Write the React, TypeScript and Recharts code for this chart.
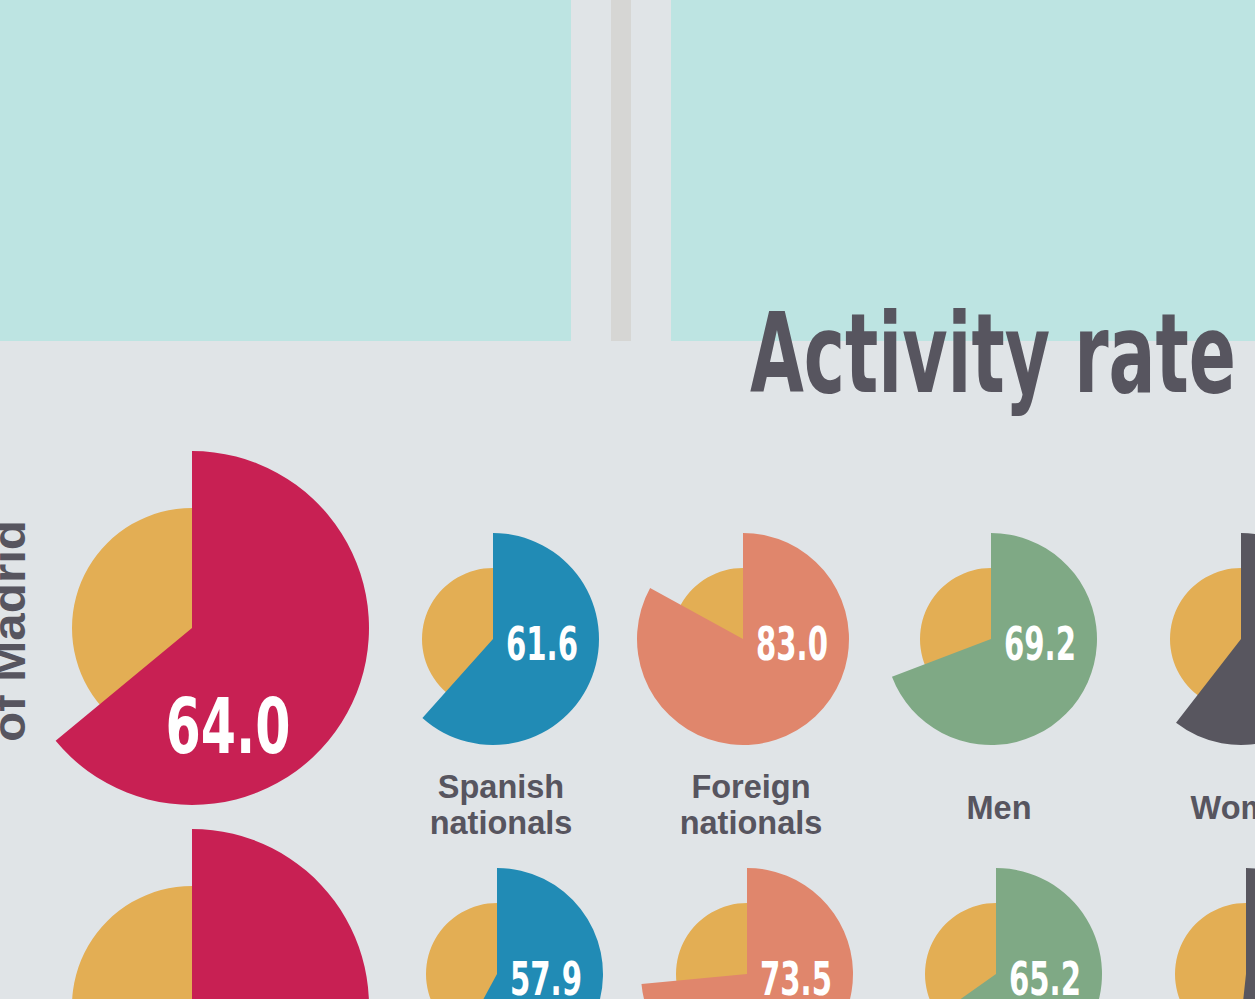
import React from 'react';
import { PieChart, Pie, Cell } from 'recharts';

// groups shown left to right; the first one is the large pie
const groups = ['Community of Madrid', 'Spanish nationals', 'Foreign nationals', 'Men', 'Women'];
const groupLabels = [[], ['Spanish', 'nationals'], ['Foreign', 'nationals'], ['Men'], ['Women']];
const rateTop = [64.0, 61.6, 83.0, 69.2, 60.5];
const rateBottom = [59.6, 57.9, 73.5, 65.2, 51.7];

const colors = ['#c82053', '#218bb5', '#e0866c', '#7fa985', '#58565f'];
const BASE = '#e3ae54';
const INK = '#57555f';
const BG = '#e0e4e7';

const W = 1255;
const H = 999;

// centers of the small multiples
const rows = [
  { values: rateTop, bigY: 628, smallY: 639, smallXs: [493, 743, 991, 1241] },
  { values: rateBottom, bigY: 1006, smallY: 974, smallXs: [497, 747, 996, 1246] },
];
const BIG_X = 192;

const condensed = "'DejaVu Sans Condensed', 'DejaVu Sans', sans-serif";

const valueLabel = (big: boolean) => (p: any) => {
  if (p.index !== 0) return null;
  return (
    <text
      x={p.cx + (big ? 36 : 49)}
      y={p.cy + (big ? 125 : 21)}
      textAnchor="middle"
      fill="#ffffff"
      fontFamily={condensed}
      fontWeight="bold"
      fontSize={big ? 77 : 46}
      textLength={big ? 125 : 72}
      lengthAdjust="spacingAndGlyphs"
    >
      {Number(p.value).toFixed(1)}
    </text>
  );
};

const App: React.FC = () => {
  const pies: React.ReactNode[] = [];
  rows.forEach((row, r) => {
    row.values.forEach((v, i) => {
      const big = i === 0;
      const cx = big ? BIG_X : row.smallXs[i - 1];
      const cy = big ? row.bigY : row.smallY;
      pies.push(
        <Pie
          key={`base-${r}-${i}`}
          data={[{ name: 'base', value: 100 }]}
          dataKey="value"
          cx={cx}
          cy={cy}
          outerRadius={big ? 120 : 71}
          startAngle={90}
          endAngle={-270}
          fill={BASE}
          stroke="none"
          isAnimationActive={false}
        />
      );
      pies.push(
        <Pie
          key={`rate-${r}-${i}`}
          data={[
            { name: groups[i], value: v },
            { name: 'rest', value: 100 - v },
          ]}
          dataKey="value"
          cx={cx}
          cy={cy}
          outerRadius={big ? 177 : 106}
          startAngle={90}
          endAngle={-270}
          stroke="none"
          label={valueLabel(big)}
          labelLine={false}
          isAnimationActive={false}
        >
          <Cell fill={colors[i]} />
          <Cell fill="transparent" />
        </Pie>
      );
    });
  });

  return (
    <div style={{ position: 'absolute', left: 0, top: 0, width: W, height: H, overflow: 'hidden', background: BG }}>
      <div style={{ position: 'absolute', left: 0, top: 0, width: 571, height: 341, background: '#bde4e2' }} />
      <div style={{ position: 'absolute', left: 611, top: 0, width: 20, height: 341, background: '#d6d6d4' }} />
      <div style={{ position: 'absolute', left: 671, top: 0, width: W - 671, height: 341, background: '#bde4e2' }} />

      <div style={{ position: 'absolute', left: 0, top: 0 }}>
        <PieChart width={W} height={H} margin={{ top: 0, right: 0, bottom: 0, left: 0 }}>
          {pies}
        </PieChart>
      </div>

      <svg width={W} height={H} style={{ position: 'absolute', left: 0, top: 0, pointerEvents: 'none' }}>
        <text
          x={750}
          y={392}
          fill={INK}
          fontFamily={condensed}
          fontWeight="bold"
          fontSize={110}
          textLength={486}
          lengthAdjust="spacingAndGlyphs"
        >
          Activity rate
        </text>
        <text
          transform="translate(25, 742) rotate(-90)"
          fill={INK}
          fontFamily="'Liberation Sans', Arial, sans-serif"
          fontWeight="bold"
          fontSize={46}
          textLength={222}
          lengthAdjust="spacingAndGlyphs"
        >
          of Madrid
        </text>
        {groupLabels.map((lines, i) => {
          if (i === 0) return null;
          const x = rows[0].smallXs[i - 1] + 8;
          const cy = rows[0].smallY;
          return lines.map((line, k) => (
            <text
              key={`${i}-${k}`}
              x={x}
              y={lines.length === 1 ? cy + 180 : cy + 159 + k * 36}
              textAnchor="middle"
              fill={INK}
              fontFamily="'Liberation Sans', Arial, sans-serif"
              fontWeight="bold"
              fontSize={32.5}
            >
              {line}
            </text>
          ));
        })}
      </svg>
    </div>
  );
};

export default App;
